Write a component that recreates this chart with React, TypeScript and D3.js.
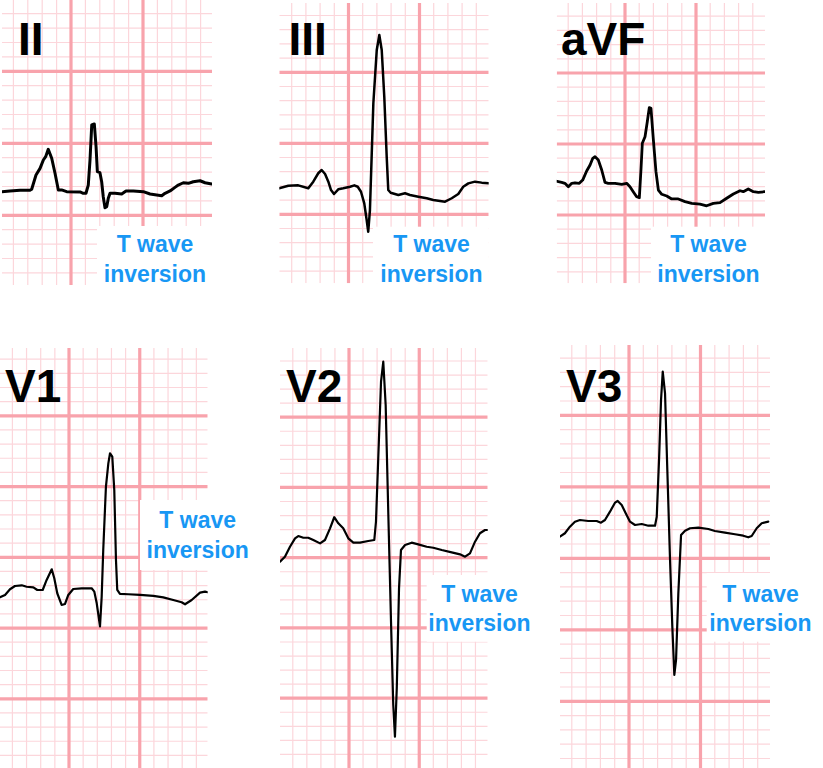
import React from 'react';
import * as d3 from 'd3';

const W = 823;
const H = 768;

// traces in mm (1 small square = 1 mm); x from a major vertical line, y above a major horizontal line
const leadII: [number, number][] = [
  [-4.81, -3.36], [-4.24, -3.31], [-3.54, -3.26], [-2.85, -3.26], [-2.73, -3.19], [-2.43, -2.2],
  [-2.15, -1.74], [-1.92, -1.16], [-1.76, -0.93], [-1.58, -0.42], [-1.34, -1.04], [-1.11, -2.08],
  [-0.88, -3.24], [-0.65, -3.24], [-0.3, -3.36], [0.63, -3.38], [0.85, -3.47], [1.04, -3.47],
  [1.2, -2.9], [1.32, -1.16], [1.44, 1.27], [1.62, 1.34], [1.74, -0.24], [1.83, -1.97],
  [2.01, -2.04], [2.13, -2.67], [2.24, -3.71], [2.36, -4.47], [2.48, -4.4], [2.59, -3.82],
  [2.71, -3.47], [3.06, -3.47], [3.52, -3.52], [3.82, -3.31], [4.33, -3.31], [5.02, -3.36],
  [5.49, -3.52], [5.95, -3.59], [6.3, -3.64], [6.53, -3.47], [6.88, -3.31], [7.22, -3.06],
  [7.45, -2.9], [7.8, -2.74], [8.15, -2.78], [8.49, -2.67], [8.96, -2.6], [9.31, -2.74], [9.77, -2.83],
];

const leadIII: [number, number][] = [
  [-4.89, -3.17], [-4.24, -2.99], [-3.54, -2.96], [-2.83, -3.17], [-2.48, -2.7], [-2.13, -2.11],
  [-1.89, -1.88], [-1.65, -2.16], [-1.42, -2.7], [-1.23, -3.29], [-1.02, -3.57], [-0.72, -3.24],
  [-0.37, -3.17], [0.11, -3.06], [0.41, -2.96], [0.65, -3.06], [0.88, -3.41], [1.11, -4.23],
  [1.28, -5.4], [1.39, -6.23], [1.51, -4.7], [1.63, -0.94], [1.75, 2.82], [1.99, 6.57],
  [2.17, 7.63], [2.34, 6.57], [2.52, 3.28], [2.69, -0.94], [2.8, -3.29], [2.97, -3.48],
  [3.51, -3.64], [3.98, -3.52], [4.33, -3.64], [4.92, -3.76], [5.51, -3.87], [5.97, -3.99],
  [6.8, -4.11], [7.27, -3.87], [7.73, -3.57], [8.08, -3.06], [8.44, -2.82], [8.91, -2.7],
  [9.38, -2.77], [9.85, -2.82],
];

const leadAVF: [number, number][] = [
  [-4.86, -2.61], [-4.46, -2.7], [-4.23, -2.77], [-3.99, -3.01], [-3.75, -2.77], [-3.52, -2.73],
  [-3.22, -2.77], [-2.98, -2.54], [-2.7, -1.9], [-2.46, -1.48], [-2.27, -1.01], [-2.11, -0.89],
  [-1.88, -1.13], [-1.64, -1.83], [-1.41, -2.7], [-1.18, -2.77], [-0.7, -2.77], [-0.23, -2.84],
  [0.12, -2.77], [0.35, -3.01], [0.58, -3.36], [0.82, -3.71], [1.01, -3.78], [1.13, -1.71],
  [1.22, 0.05], [1.41, 0.51], [1.57, 1.57], [1.71, 2.56], [1.83, 2.51], [1.99, 0.4],
  [2.18, -1.95], [2.35, -3.24], [2.59, -3.54], [2.94, -3.66], [3.29, -3.87], [3.75, -3.87],
  [4.23, -4.06], [4.7, -4.18], [5.28, -4.23], [5.75, -4.35], [6.22, -4.18], [6.69, -4.13],
  [7.16, -3.82], [7.63, -3.52], [8.1, -3.29], [8.33, -3.36], [8.68, -3.17], [9.04, -3.36],
  [9.39, -3.4], [9.86, -3.36],
];

const leadV1: [number, number][] = [
  [-4.88, -2.83], [-4.52, -2.66], [-4.17, -2.26], [-3.82, -2.03], [-3.34, -1.98], [-2.99, -2.08],
  [-2.52, -2.12], [-2.24, -2.31], [-1.86, -2.31], [-1.58, -1.6], [-1.22, -0.85], [-1.04, -1.48],
  [-0.83, -2.54], [-0.52, -3.37], [-0.28, -3.3], [-0.05, -2.66], [0.3, -2.24], [0.9, -2.19],
  [1.6, -2.19], [1.79, -2.43], [1.96, -3.25], [2.19, -4.88], [2.31, -2.78], [2.42, 0.52],
  [2.61, 4.99], [2.78, 6.64], [2.9, 7.35], [3.06, 7.11], [3.2, 4.76], [3.32, -0.19],
  [3.41, -2.31], [3.6, -2.59], [4.19, -2.61], [5.02, -2.66], [5.96, -2.73], [6.66, -2.83],
  [7.37, -3.02], [7.96, -3.18], [8.2, -3.32], [8.67, -3.02], [9.26, -2.5], [9.61, -2.43], [9.8, -2.47],
];

const leadV2: [number, number][] = [
  [-4.91, -0.28], [-4.56, 0.07], [-4.2, 0.78], [-3.84, 1.38], [-3.61, 1.54], [-3.25, 1.42],
  [-2.9, 1.42], [-2.54, 1.26], [-2.06, 1.02], [-1.71, 1.26], [-1.35, 2.09], [-1.05, 2.88],
  [-0.76, 2.45], [-0.41, 2.09], [-0.05, 1.38], [0.31, 1.07], [0.78, 1.07], [1.37, 1.19],
  [1.8, 1.26], [1.92, 2.56], [2.09, 7.31], [2.28, 12.53], [2.44, 13.95], [2.61, 10.87],
  [2.8, 3.04], [2.99, -4.56], [3.15, -10.48], [3.27, -12.74], [3.4, -9.3], [3.56, -2.18],
  [3.7, 0.55], [3.99, 0.9], [4.46, 1.07], [4.93, 0.95], [5.53, 0.78], [6.0, 0.71],
  [6.6, 0.55], [7.31, 0.38], [7.9, 0.24], [8.26, 0.07], [8.61, 0.31], [8.97, 1.14],
  [9.32, 1.74], [9.68, 1.97], [9.91, 1.97],
];

const leadV3: [number, number][] = [
  [-4.83, 1.51], [-4.48, 1.75], [-4.13, 2.21], [-3.78, 2.56], [-3.43, 2.68], [-2.85, 2.61],
  [-2.26, 2.61], [-1.96, 2.49], [-1.68, 2.68], [-1.33, 3.26], [-0.98, 3.89], [-0.79, 4.01],
  [-0.51, 3.73], [-0.23, 3.15], [0.07, 2.56], [0.42, 2.33], [0.89, 2.4], [1.35, 2.28],
  [1.82, 2.28], [1.94, 2.91], [2.1, 6.87], [2.24, 11.07], [2.36, 13.05], [2.52, 11.54],
  [2.68, 6.17], [2.87, -0.12], [3.03, -4.78], [3.17, -8.16], [3.29, -7.11], [3.45, -2.45],
  [3.64, 1.63], [3.92, 1.93], [4.27, 2.1], [4.85, 2.14], [5.55, 2.05], [6.01, 1.91],
  [6.71, 1.79], [7.41, 1.68], [7.99, 1.58], [8.34, 1.47], [8.58, 1.56], [8.93, 2.1],
  [9.28, 2.45], [9.74, 2.56],
];

const leadNames = ['II', 'III', 'aVF', 'V1', 'V2', 'V3'];
const noteLines = ['T wave', 'inversion'];

type Panel = {
  name: string;
  trace: [number, number][];
  left: number; right: number; top: number; bottom: number;
  ox: number; oy: number; mm: number; lw: number;
  box: [number, number, number, number];
  noteX: number; noteY: number;
  labelX: number; labelY: number;
};

const panels: Panel[] = [
  { name: leadNames[0], trace: leadII, left: 2, right: 212, top: 0, bottom: 285, ox: 71, oy: 143.3, mm: 14.4, lw: 3,
    box: [97, 226, 212, 285], noteX: 155, noteY: 252, labelX: 18, labelY: 55 },
  { name: leadNames[1], trace: leadIII, left: 279.3, right: 488.7, top: 3, bottom: 283.3, ox: 348.5, oy: 143.3, mm: 14.2, lw: 2.5,
    box: [373, 226.7, 488.7, 283.3], noteX: 431.5, noteY: 252, labelX: 288.5, labelY: 55 },
  { name: leadNames[2], trace: leadAVF, left: 556.7, right: 765, top: 3, bottom: 283.3, ox: 625, oy: 144, mm: 14.2, lw: 2.8,
    box: [651, 226.7, 765, 283.3], noteX: 708.5, noteY: 252, labelX: 561, labelY: 55 },
  { name: leadNames[3], trace: leadV1, left: 0, right: 207.7, top: 348, bottom: 768, ox: 69, oy: 557.3, mm: 14.15, lw: 2.2,
    box: [140, 500, 253, 570], noteX: 197.7, noteY: 528, labelX: 5, labelY: 401.7 },
  { name: leadNames[4], trace: leadV2, left: 280, right: 487.7, top: 348, bottom: 768, ox: 349, oy: 557.7, mm: 14.05, lw: 2.2,
    box: [426.7, 575, 533, 641.7], noteX: 479.5, noteY: 601.7, labelX: 286, labelY: 401.7 },
  { name: leadNames[5], trace: leadV3, left: 560, right: 770, top: 345, bottom: 768, ox: 629, oy: 558.3, mm: 14.3, lw: 2.2,
    box: [706.7, 573, 823, 641.7], noteX: 760.5, noteY: 601.7, labelX: 566, labelY: 401.7 },
];

const MINOR = '#fcd6db';
const MAJOR = '#f8a3ac';
const BLUE = '#1897f4';
const FONT = '"Liberation Sans", Arial, Helvetica, sans-serif';

function EcgPanel({ p, idx }: { p: Panel; idx: number }) {
  const x = d3.scaleLinear().domain([0, 1]).range([p.ox, p.ox + p.mm]);
  const y = d3.scaleLinear().domain([0, 1]).range([p.oy, p.oy - p.mm]);
  const xs = d3.range(Math.ceil(x.invert(p.left)), Math.floor(x.invert(p.right)) + 1);
  const ys = d3.range(Math.ceil(y.invert(p.bottom)), Math.floor(y.invert(p.top)) + 1);
  const line = d3.line<[number, number]>().x(d => x(d[0])).y(d => y(d[1]));
  const clipId = `clip-${idx}`;
  const isMajor = (v: number) => ((v % 5) + 5) % 5 === 0;

  return (
    <g>
      <defs>
        <clipPath id={clipId}>
          <rect x={p.left} y={p.top} width={p.right - p.left} height={p.bottom - p.top} />
        </clipPath>
      </defs>
      <g clipPath={`url(#${clipId})`}>
        {xs.filter(v => !isMajor(v)).map(v => (
          <line key={`mx${v}`} x1={x(v)} x2={x(v)} y1={p.top} y2={p.bottom} stroke={MINOR} strokeWidth={1.2} />
        ))}
        {ys.filter(v => !isMajor(v)).map(v => (
          <line key={`my${v}`} y1={y(v)} y2={y(v)} x1={p.left} x2={p.right} stroke={MINOR} strokeWidth={1.2} />
        ))}
        {xs.filter(isMajor).map(v => (
          <line key={`Mx${v}`} x1={x(v)} x2={x(v)} y1={p.top} y2={p.bottom} stroke={MAJOR} strokeWidth={3.2} />
        ))}
        {ys.filter(isMajor).map(v => (
          <line key={`My${v}`} y1={y(v)} y2={y(v)} x1={p.left} x2={p.right} stroke={MAJOR} strokeWidth={3.2} />
        ))}
        <path d={line(p.trace) ?? ''} fill="none" stroke="#000" strokeWidth={p.lw}
          strokeLinejoin="round" strokeLinecap="round" />
      </g>
      <text x={p.labelX} y={p.labelY} fontFamily={FONT} fontWeight="bold" fontSize={46} fill="#000">
        {p.name}
      </text>
      <rect x={p.box[0]} y={p.box[1]} width={p.box[2] - p.box[0]} height={p.box[3] - p.box[1]} fill="#fff" />
      {noteLines.map((t, i) => (
        <text key={t} x={p.noteX} y={p.noteY + i * 29.5} textAnchor="middle" fontFamily={FONT}
          fontWeight="bold" fontSize={23} fill={BLUE}>
          {t}
        </text>
      ))}
    </g>
  );
}

export default function App() {
  return (
    <svg width={W} height={H} style={{ position: 'absolute', left: 0, top: 0, background: '#fff' }}>
      <rect width={W} height={H} fill="#fff" />
      {panels.map((p, i) => <EcgPanel key={p.name} p={p} idx={i} />)}
    </svg>
  );
}
